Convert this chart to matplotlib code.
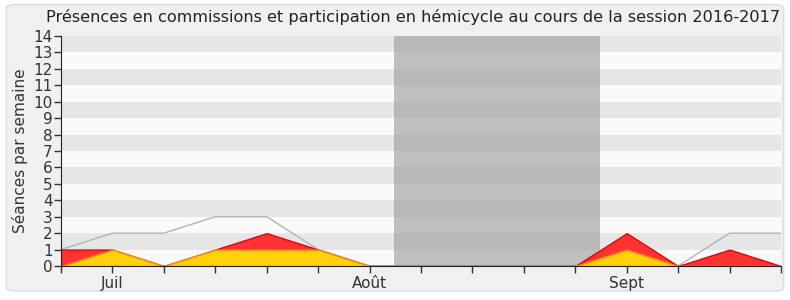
import matplotlib
matplotlib.use("Agg")
import matplotlib.pyplot as plt
from matplotlib.patches import FancyBboxPatch
import numpy as np

weeks = list(range(15))
total = [1, 2, 2, 3, 3, 1, 0, 0, 0, 0, 0, 0, 0, 2, 2]
presence = [1, 1, 0, 1, 2, 1, 0, 0, 0, 0, 0, 2, 0, 1, 0]
hemicycle = [0, 1, 0, 1, 1, 1, 0, 0, 0, 0, 0, 1, 0, 0, 0]
tick_pos = [1, 6, 11]
tick_labels = ["Juil", "Août", "Sept"]
vacation = (6.47, 10.48)
title = "Présences en commissions et participation en hémicycle au cours de la session 2016-2017"

fig = plt.figure(figsize=(7.9, 3.0), dpi=100)
fig.patch.set_facecolor("white")
bg = FancyBboxPatch((0.008, 0.03), 0.984, 0.955, boxstyle="round,pad=0,rounding_size=0.012",
                    transform=fig.transFigure, facecolor="#f0f0f0", edgecolor="#dcdcdc",
                    linewidth=1.0, zorder=-10)
fig.patches.append(bg)

ax = fig.add_axes([0.0772, 0.1133, 0.9114, 0.7667])
ax.set_facecolor("#fafafa")
for k in range(14):
    if k % 2 == 1:
        ax.axhspan(k, k + 1, color="#e6e6e6", zorder=0, linewidth=0)

ax.axvspan(vacation[0], vacation[1], color="#a0a0a0", alpha=0.65, zorder=1, linewidth=0)

x = np.array(weeks)
ax.fill_between(x, 0, presence, facecolor="#ff3333", edgecolor="#ee0000", linewidth=1.0, zorder=3)
ax.fill_between(x, 0, hemicycle, facecolor="#ffd20a", edgecolor="#ff8c00", linewidth=1.0, zorder=4)
ax.plot(x, total, color="#b4b4b4", linewidth=1.0, zorder=2)

ax.set_xlim(0, 14)
ax.set_ylim(0, 14)
ax.set_yticks(range(15))
ax.set_xticks(weeks, minor=False)
ax.set_xticklabels(["" if i not in tick_pos else tick_labels[tick_pos.index(i)] for i in weeks])
ax.tick_params(axis="both", labelsize=11, colors="#333333", length=5, width=1)
ax.tick_params(axis="x", pad=2)
ax.tick_params(axis="y", pad=1)
for s in ["top", "right"]:
    ax.spines[s].set_visible(False)
for s in ["left", "bottom"]:
    ax.spines[s].set_color("#222222")
    ax.spines[s].set_zorder(6)
ax.set_ylabel("Séances par semaine", fontsize=11, color="#333333", labelpad=4)
fig.text(413 / 790, 1 - 17 / 300, title, fontsize=11.6, color="#222222", ha="center", va="center")

fig.savefig("out.png", dpi=100)
